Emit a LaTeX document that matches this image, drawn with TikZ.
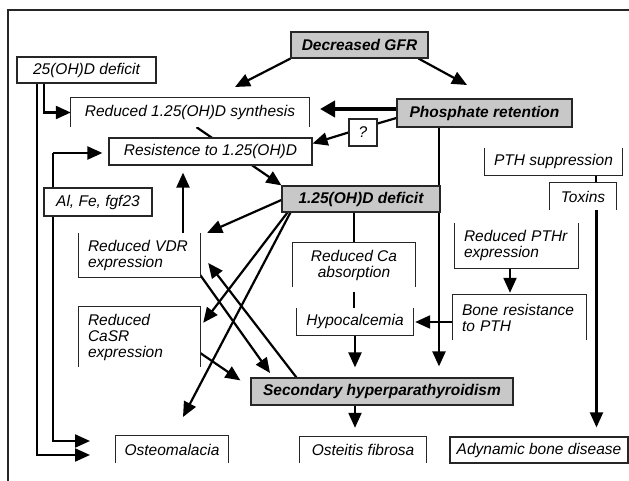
\documentclass[tikz,border=0pt]{standalone}
\usepackage{fontspec}
\setmainfont{Liberation Sans}
\usetikzlibrary{arrows.meta}
\definecolor{boxgray}{RGB}{200,200,200}
\pgfdeclarelayer{bg}
\pgfsetlayers{bg,main}
\tikzset{
 lbl/.style={rectangle, inner sep=0pt, font=\fontsize{15.5}{16}\selectfont\itshape, align=center, fill=white},
 fullbox/.style={lbl, draw=black!85, line width=1.2pt},
 graybox/.style={lbl, draw=black!85, fill=boxgray, line width=1.2pt, font=\fontsize{15.5}{16}\selectfont\bfseries\itshape},
 leftbox/.style={lbl, align=left, inner xsep=9pt},
 edgeline/.style={draw=black!85, line width=1.2pt},
 conn/.style={line width=2.2pt},
 arr/.style={conn, -{Triangle[length=15pt,width=13pt]}},
 thickarr/.style={line width=4pt, -{Triangle[length=15pt,width=16pt]}},
}
\begin{document}
\begin{tikzpicture}[x=1pt,y=-1pt]
\useasboundingbox (0,0) rectangle (629,481);
% frame
\draw[edgeline] (8,481) -- (8,10) -- (629,10);
% nodes
\node[fullbox, minimum width=139pt, minimum height=26pt] (d25) at (86.5,70) {25(OH)D deficit};
\node[lbl, minimum width=238pt, minimum height=29pt] (syn) at (190,112.5) {Reduced 1.25(OH)D synthesis};
\node[fullbox, minimum width=203pt, minimum height=27pt] (res) at (210.5,151.5) {Resistence to 1.25(OH)D};
\node[graybox, minimum width=137pt, minimum height=26pt] (gfr) at (359.5,45) {Decreased GFR};
\node[graybox, minimum width=175pt, minimum height=28pt] (pho) at (484.5,113) {Phosphate retention};
\node[fullbox, minimum width=28pt, minimum height=27pt] (q) at (363,132.5) {?};
\node[lbl, minimum width=137pt, minimum height=27pt] (pths) at (553.5,161.5) {PTH suppression};
\node[lbl, minimum width=66pt, minimum height=27pt] (tox) at (583,196.5) {Toxins};
\node[fullbox, minimum width=108pt, minimum height=28pt] (alfe) at (98,202) {Al, Fe, fgf23};
\node[graybox, minimum width=158pt, minimum height=26pt] (d125) at (361,199) {1.25(OH)D deficit};
\node[lbl, minimum width=122pt, minimum height=44pt] (caab) at (354,265) {Reduced Ca\\absorption};
\node[lbl, minimum width=116pt, minimum height=27pt] (hypo) at (355,321.5) {Hypocalcemia};
\node[leftbox, text width=103pt, minimum height=44pt] (vdr) at (139.5,255) {Reduced VDR\\expression};
\node[leftbox, text width=103pt, minimum height=60pt] (casr) at (139.5,337) {Reduced\\CaSR\\expression};
\node[leftbox, text width=105pt, minimum height=45pt] (pthr) at (516.5,245.5) {Reduced PTHr\\expression};
\node[leftbox, text width=115pt, minimum height=45pt] (bone) at (519.5,317.5) {Bone resistance\\to PTH};
\node[graybox, minimum width=262pt, minimum height=27pt] (sec) at (382,391.5) {Secondary hyperparathyroidism};
\node[lbl, minimum width=112pt, minimum height=27pt] (ostm) at (172,449.5) {Osteomalacia};
\node[lbl, minimum width=126pt, minimum height=26pt] (ostf) at (363,450) {Osteitis fibrosa};
\node[fullbox, minimum width=178pt, minimum height=26pt] (ady) at (539,450) {Adynamic bone disease};
% partial borders
\draw[edgeline] (syn.south west) -- (syn.north west) -- (syn.north east) -- (syn.south east);
\draw[edgeline] (pths.north west) -- (pths.south west) -- (pths.south east) -- (pths.north east);
\draw[edgeline] (tox.south west) -- (tox.north west) -- (tox.north east) -- (tox.south east);
\draw[edgeline] (caab.south west) -- (caab.north west) -- (caab.north east) -- (caab.south east);
\draw[edgeline] (hypo.north west) -- (hypo.south west) -- (hypo.south east) -- (hypo.north east);
\draw[edgeline] (vdr.north west) -- (vdr.south west) -- (vdr.south east) -- (vdr.north east);
\draw[edgeline] (casr.south west) -- (casr.north west) -- (casr.north east) -- (casr.south east);
\draw[edgeline] (pthr.north west) -- (pthr.south west) -- (pthr.south east) -- (pthr.north east);
\draw[edgeline] (bone.south west) -- (bone.north west) -- (bone.north east) -- (bone.south east);
\draw[edgeline] (ostm.south west) -- (ostm.north west) -- (ostm.north east) -- (ostm.south east);
\draw[edgeline] (ostf.south west) -- (ostf.north west) -- (ostf.north east) -- (ostf.south east);
% free ends and helper coordinates
\coordinate (ta) at (235,87);
\coordinate (tb) at (467,85);
\coordinate (tc) at (320,109);
\coordinate (tE1) at (90,441);
\coordinate (tE2) at (90,455);
\coordinate (tk) at (183,417);
\coordinate (tl) at (270,373);
\coordinate (fc) at (53,153);
\coordinate (vdrtop) at ([xshift=43.5pt]vdr.north);
\coordinate (pb) at ([xshift=-45.5pt]pho.south);
\coordinate (pt) at ([xshift=42.5pt]pths.south);
\coordinate (tt) at ([xshift=13.5pt]tox.south);
\coordinate (sb) at ([xshift=-27pt]sec.south);
\begin{pgfonlayer}{bg}
\draw[arr] (gfr.south west) -- (ta);
\draw[arr] ([xshift=-10pt]gfr.south east) -- (tb);
\draw[thickarr] ([yshift=4pt]pho.west) -- (tc);
\draw[conn] ([yshift=-5pt]pho.west) -- ([yshift=9pt]q.east);
\draw[arr] (q.west) -- ([yshift=8pt]res.east);
\draw[arr] ([xshift=-42.5pt]d25.south) |- (syn.west);
\draw[arr] ([xshift=-49.5pt]d25.south) |- (tE2);
\draw[arr, shorten >=6pt] (fc) -- (fc -| res.west);
\draw[arr] (fc) |- (tE1);
\draw[arr] ([xshift=6.5pt]syn.south) -- (d125.north west);
\draw[arr, shorten >=7pt] (vdrtop) -- (vdrtop |- res.south);
\draw[arr] ([yshift=-1pt]d125.west) -- ([xshift=7pt]vdr.north east);
\draw[arr] ([xshift=6pt]d125.south west) -- ([shift={(3pt,-16pt)}]casr.north east);
\draw[arr] ([xshift=9pt]d125.south west) -- (tk);
\draw[arr] ([yshift=-20pt]vdr.east) -- (tl);
\draw[arr] ([xshift=46pt]sec.north west) -- ([shift={(8pt,-8pt)}]vdr.east);
\draw[arr] ([yshift=-16pt]casr.east) -- ([shift={(-10pt,-3pt)}]sec.north west);
\draw[conn] (caab.north |- d125.south) -- (caab.north);
\draw[conn] ([yshift=-5pt]caab.south) -- (hypo.north -| caab.south);
\draw[arr, shorten >=10pt] (hypo.south) -- (hypo.south |- sec.north);
\draw[arr, shorten >=11pt] (pb) -- (pb |- sec.north);
\draw[arr] ([yshift=-4.5pt]bone.west) -- ([shift={(2pt,-0.5pt)}]hypo.east);
\draw[arr, shorten >=2pt] ([xshift=-6.5pt]pthr.south) -- ([xshift=-9.5pt]bone.north);
\draw[conn] (pt) -- (pt |- tox.north);
\draw[arr, shorten >=9pt] (tt) -- (tt |- ady.north);
\draw[arr, shorten >=9pt] (sb) -- (sb |- ostf.north);
\end{pgfonlayer}
\end{tikzpicture}
\end{document}
